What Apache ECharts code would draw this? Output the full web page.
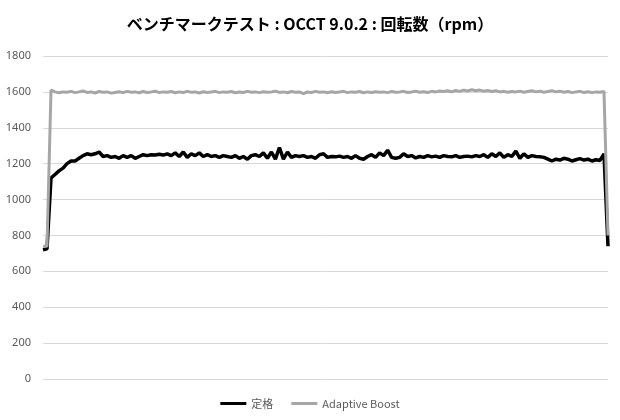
<!DOCTYPE html>
<html>
<head>
<meta charset="utf-8">
<script src="https://cdn.jsdelivr.net/npm/echarts@6/dist/echarts.min.js"></script>
<style>
  html, body { margin: 0; padding: 0; background: #fff; }
  #main { width: 620px; height: 420px; }
</style>
</head>
<body>
<div id="main"></div>
<script>
// 定格 (black)
var teikaku = [
  720, 725, 1120, 1140, 1160, 1175, 1200, 1215, 1215, 1230,
  1245, 1255, 1250, 1255, 1265, 1240, 1245, 1235, 1240, 1230,
  1245, 1235, 1245, 1230, 1240, 1250, 1245, 1250, 1248, 1252,
  1248, 1255, 1245, 1260, 1240, 1265, 1235, 1255, 1245, 1260,
  1240, 1250, 1240, 1245, 1235, 1245, 1240, 1235, 1245, 1230,
  1240, 1225, 1245, 1250, 1240, 1260, 1230, 1265, 1225, 1290,
  1225, 1265, 1235, 1245, 1240, 1245, 1235, 1240, 1230, 1250,
  1255, 1235, 1240, 1238, 1242, 1235, 1240, 1230, 1245, 1230,
  1225, 1240, 1250, 1235, 1260, 1245, 1275, 1235, 1230, 1235,
  1255, 1240, 1245, 1232, 1240, 1235, 1245, 1238, 1242, 1235,
  1245, 1240, 1238, 1245, 1235, 1240, 1242, 1238, 1245, 1240,
  1250, 1235, 1255, 1240, 1260, 1235, 1250, 1240, 1270, 1230,
  1255, 1235, 1245, 1240, 1238, 1235, 1225, 1215, 1225, 1220,
  1230, 1225, 1215, 1222, 1228, 1220, 1225, 1215, 1222, 1218,
  1255, 740
];

// Adaptive Boost (gray)
var adaptiveBoost = [
  740, 740, 1610, 1600, 1595, 1600, 1598, 1603, 1596, 1600,
  1605, 1597, 1600, 1594, 1602, 1598, 1600, 1593, 1597, 1601,
  1596, 1603, 1598, 1600, 1595, 1602, 1597, 1600, 1604, 1596,
  1600, 1598, 1602, 1595, 1600, 1597, 1603, 1598, 1600, 1594,
  1601, 1597, 1600, 1603, 1596, 1600, 1598, 1602, 1595, 1599,
  1597, 1603, 1598, 1600, 1596, 1601, 1598, 1600, 1604, 1597,
  1600, 1595, 1602, 1598, 1600, 1590, 1600, 1597, 1603, 1598,
  1600, 1595, 1601, 1597, 1600, 1603, 1596, 1600, 1598, 1602,
  1595, 1600, 1597, 1601, 1598, 1600, 1596, 1602, 1598, 1600,
  1603, 1597, 1600, 1604, 1598, 1601, 1597, 1603, 1600, 1605,
  1602, 1606, 1600, 1608, 1603, 1610, 1605, 1612, 1606, 1610,
  1604, 1608, 1602, 1606, 1600, 1603, 1598, 1602, 1600, 1604,
  1598, 1602, 1606, 1600, 1604, 1598, 1602, 1607, 1600, 1604,
  1598, 1602, 1596, 1600, 1603, 1597, 1601, 1596, 1600, 1598,
  1602, 800
];

var categories = teikaku.map(function (v, i) { return String(i + 1) })

var yTicks = { min: 0, max: 1800, interval: 200 }

var myChart = echarts.init(document.getElementById('main'));
var option = {
  animation: false,
  title: {
    text: 'ベンチマークテスト : OCCT 9.0.2 : 回転数（rpm）',
    left: 'center',
    top: 11,
    textStyle: {
      fontFamily: 'Noto Sans CJK JP',
      fontSize: 16,
      fontWeight: 'bold',
      color: '#000'
    }
  },
  legend: {
    bottom: 6,
    left: 'center',
    itemWidth: 26,
    itemHeight: 3,
    itemGap: 18,
    icon: 'rect',
    textStyle: {
      fontFamily: 'Noto Sans CJK JP',
      fontSize: 11,
      color: '#595959'
    },
    data: ['定格', 'Adaptive Boost']
  },
  grid: {
    left: 43,
    right: 12,
    top: 56,
    bottom: 41
  },
  xAxis: {
    type: 'category',
    boundaryGap: false,
    data: categories,
    axisLine: { show: false },
    axisTick: { show: false },
    axisLabel: { show: false },
    splitLine: { show: false }
  },
  yAxis: {
    type: 'value',
    min: yTicks.min,
    max: yTicks.max,
    interval: yTicks.interval,
    axisLine: { show: false },
    axisTick: { show: false },
    axisLabel: {
      color: '#595959',
      fontSize: 11,
      fontFamily: 'Noto Sans',
      margin: 12,
      formatter: function (v) { return String(v) }
    },
    splitLine: { lineStyle: { color: '#d9d9d9', width: 1 } }
  },
  series: [
    {
      name: '定格',
      type: 'line',
      data: teikaku,
      showSymbol: false,
      color: '#000000',
      lineStyle: { width: 3.5, color: '#000000' }
    },
    {
      name: 'Adaptive Boost',
      type: 'line',
      data: adaptiveBoost,
      showSymbol: false,
      color: '#a6a6a6',
      lineStyle: { width: 3, color: '#a6a6a6' }
    }
  ]
};
myChart.setOption(option);
</script>
</body>
</html>
